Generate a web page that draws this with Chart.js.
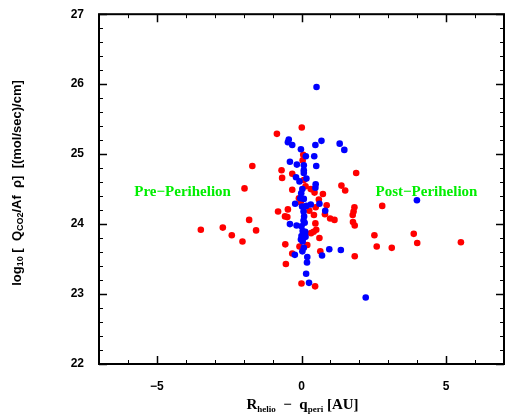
<!DOCTYPE html>
<html>
<head>
<meta charset="utf-8">
<script src="https://cdn.jsdelivr.net/npm/chart.js@4.4.0/dist/chart.umd.min.js"></script>
<style>
body { margin: 0; background: #fff; }
#wrap { width: 508px; height: 415px; }
</style>
</head>
<body>
<div id="wrap"><canvas id="mycanvas" width="508" height="415"></canvas></div>
<script>
// post/pre perihelion distance (AU) and log10 Q/Afrho
var redX = [0.01,-0.85,0.06,0.04,-1.70,-0.69,-0.32,1.89,-0.67,0.08,-1.97,-0.32,0.14,1.38,1.51,0.32,
	0.45,0.74,-0.09,0.60,-0.03,0.87,0.49,-0.47,-0.81,0.27,0.81,0.43,1.83,1.80,1.77,-0.49,
	-0.57,0.99,1.14,-1.81,0.48,1.78,1.84,0.51,-2.41,-1.57,0.42,0.33,-2.04,0.62,-0.56,0.20,
	-0.07,0.65,-0.32,1.84,-0.54,0.00,0.47,-3.48,-2.72,2.79,2.52,3.88,4.00,2.60,3.12,5.51];
var redY = [25.38,25.29,24.99,24.91,24.83,24.77,24.72,24.73,24.66,24.63,24.51,24.49,24.54,24.55,24.48,24.50,
	24.45,24.43,24.37,24.35,24.31,24.27,24.24,24.21,24.18,24.19,24.14,24.13,24.24,24.18,24.13,24.10,
	24.11,24.08,24.06,24.06,24.01,24.03,23.98,23.92,23.84,23.91,23.89,23.87,23.75,23.80,23.71,23.70,
	23.68,23.61,23.58,23.54,23.43,23.15,23.11,23.92,23.95,24.26,23.84,23.86,23.73,23.68,23.66,23.74];

var blueX = [0.52,-0.44,-0.47,-0.32,0.48,0.69,1.32,1.48,-0.02,0.15,0.44,-0.40,-0.16,0.08,0.51,0.08,
	0.08,-0.19,0.17,-0.07,0.49,0.48,0.03,-0.01,-0.04,0.08,-0.22,0.02,0.17,0.32,0.62,0.82,
	0.07,0.09,0.07,0.11,-0.40,-0.17,0.00,0.04,0.13,0.00,0.07,0.14,-0.02,0.04,0.08,0.03,
	0.96,1.36,-0.23,0.71,0.20,0.19,0.16,0.26,2.22,3.99];
var blueY = [25.96,25.21,25.17,25.13,25.13,25.19,25.15,25.06,25.07,24.97,24.97,24.89,24.85,24.84,24.83,24.77,
	24.73,24.67,24.65,24.61,24.57,24.52,24.50,24.44,24.37,24.36,24.29,24.25,24.26,24.28,24.29,24.19,
	24.18,24.11,24.05,24.02,24.00,23.98,23.97,23.90,23.89,23.83,23.80,23.82,23.78,23.75,23.66,23.61,
	23.64,23.63,23.56,23.55,23.53,23.45,23.29,23.16,22.95,24.34];

var xTicks = [-5, 0, 5];
var yTicks = [22, 23, 24, 25, 26, 27];
var xMinor = [-7,-6,-4,-3,-2,-1,1,2,3,4,6,7];
var yMinorStep = 0.2;

var labels = [
	{ text: 'Pre\u2212Perihelion', x: -4.11, y: 24.46 },
	{ text: 'Post\u2212Perihelion', x: 4.32, y: 24.46 }
];

function toPoints(xs, ys) {
	var pts = [];
	for (var i = 0; i < xs.length; i++) pts.push({ x: xs[i], y: ys[i] });
	return pts;
}

// draws the frame, inner ticks, annotations and axis titles (with subscripts)
var framePlugin = {
	id: 'frame',
	afterDraw: function(chart) {
		var ctx = chart.ctx;
		var a = chart.chartArea;
		var xs = chart.scales.x, ys = chart.scales.y;
		ctx.save();
		ctx.strokeStyle = '#000';

		ctx.lineWidth = 1.5;
		ctx.beginPath();
		xTicks.forEach(function(v) {
			var p = Math.round(xs.getPixelForValue(v)) + 0.5;
			ctx.moveTo(p, a.bottom); ctx.lineTo(p, a.bottom - 8);
			ctx.moveTo(p, a.top); ctx.lineTo(p, a.top + 8);
		});
		yTicks.forEach(function(v) {
			var p = Math.round(ys.getPixelForValue(v)) + 0.5;
			ctx.moveTo(a.left, p); ctx.lineTo(a.left + 8, p);
			ctx.moveTo(a.right, p); ctx.lineTo(a.right - 8, p);
		});
		ctx.stroke();

		ctx.lineWidth = 1;
		ctx.beginPath();
		xMinor.forEach(function(v) {
			var p = Math.round(xs.getPixelForValue(v)) + 0.5;
			ctx.moveTo(p, a.bottom); ctx.lineTo(p, a.bottom - 4);
			ctx.moveTo(p, a.top); ctx.lineTo(p, a.top + 4);
		});
		for (var v = 22; v < 27; v += yMinorStep) {
			if (Math.abs(v - Math.round(v)) < 0.01) continue;
			var p = Math.round(ys.getPixelForValue(v)) + 0.5;
			ctx.moveTo(a.left, p); ctx.lineTo(a.left + 4, p);
			ctx.moveTo(a.right, p); ctx.lineTo(a.right - 4, p);
		}
		ctx.stroke();

		ctx.lineWidth = 2;
		ctx.strokeRect(a.left, a.top, a.right - a.left, a.bottom - a.top);

		// annotations
		ctx.fillStyle = '#00ee00';
		ctx.font = 'bold 15px "Liberation Serif"';
		ctx.textAlign = 'center';
		ctx.textBaseline = 'middle';
		labels.forEach(function(l) {
			ctx.fillText(l.text, xs.getPixelForValue(l.x), ys.getPixelForValue(l.y));
		});

		// x title: R_helio - q_peri [AU]
		var segs = [
			['R', 0], ['helio', 1], ['  \u2212  ', 0], ['q', 0], ['peri', 1], [' [AU]', 0]
		];
		drawRich(ctx, segs, (a.left + a.right) / 2 + 1, 405, 15, 9, 'Liberation Serif');

		// y title
		ctx.save();
		ctx.translate(17, 183);
		ctx.rotate(-Math.PI / 2);
		var ysegs = [
			['log', 0], ['10', 1], [' [  Q', 0], ['CO2', 1], ['/Af  \u03c1]  [(mol/sec)/cm]', 0]
		];
		drawRich(ctx, ysegs, 0, 0, 13, 9, 'Liberation Sans');
		ctx.restore();

		ctx.restore();
	}
};

function drawRich(ctx, segs, cx, cy, size, subSize, family) {
	var total = 0;
	segs.forEach(function(s) {
		ctx.font = 'bold ' + (s[1] ? subSize : size) + 'px "' + family + '"';
		total += ctx.measureText(s[0]).width;
	});
	var x = cx - total / 2;
	ctx.fillStyle = '#000';
	ctx.textAlign = 'left';
	ctx.textBaseline = 'middle';
	segs.forEach(function(s) {
		ctx.font = 'bold ' + (s[1] ? subSize : size) + 'px "' + family + '"';
		ctx.fillText(s[0], x, cy + (s[1] ? size * 0.3 : 0));
		x += ctx.measureText(s[0]).width;
	});
}

var ctx = document.getElementById('mycanvas');
var chart = new Chart(ctx, {
	type: 'scatter',
	data: {
		datasets: [
			{
				label: 'blue',
				data: toPoints(blueX, blueY),
				backgroundColor: '#0000ff',
				borderWidth: 0,
				pointRadius: 3.3
			},
			{
				label: 'red',
				data: toPoints(redX, redY),
				backgroundColor: '#ff0000',
				borderWidth: 0,
				pointRadius: 3.3
			}
		]
	},
	options: {
		responsive: false,
		animation: false,
		events: [],
		layout: { padding: { left: 0, top: 11, right: 1, bottom: 0 } },
		plugins: { legend: { display: false }, tooltip: { enabled: false } },
		scales: {
			x: {
				type: 'linear',
				min: -7, max: 7,
				afterBuildTicks: function(s) { s.ticks = xTicks.map(function(v) { return { value: v }; }); },
				afterFit: function(s) { s.height = 51; },
				grid: { display: false },
				border: { display: false },
				ticks: {
					color: '#000',
					padding: 7,
					maxRotation: 0,
					font: { family: 'Liberation Sans', size: 12, weight: 'bold' },
					callback: function(v) { return v < 0 ? '\u2212' + Math.abs(v) : '' + v; }
				}
			},
			y: {
				type: 'linear',
				min: 22, max: 27,
				afterBuildTicks: function(s) { s.ticks = yTicks.map(function(v) { return { value: v }; }); },
				afterFit: function(s) { s.width = 99; },
				grid: { display: false },
				border: { display: false },
				ticks: {
					color: '#000',
					padding: 7,
					font: { family: 'Liberation Sans', size: 12, weight: 'bold' }
				}
			}
		}
	},
	plugins: [framePlugin]
});
</script>
</body>
</html>
